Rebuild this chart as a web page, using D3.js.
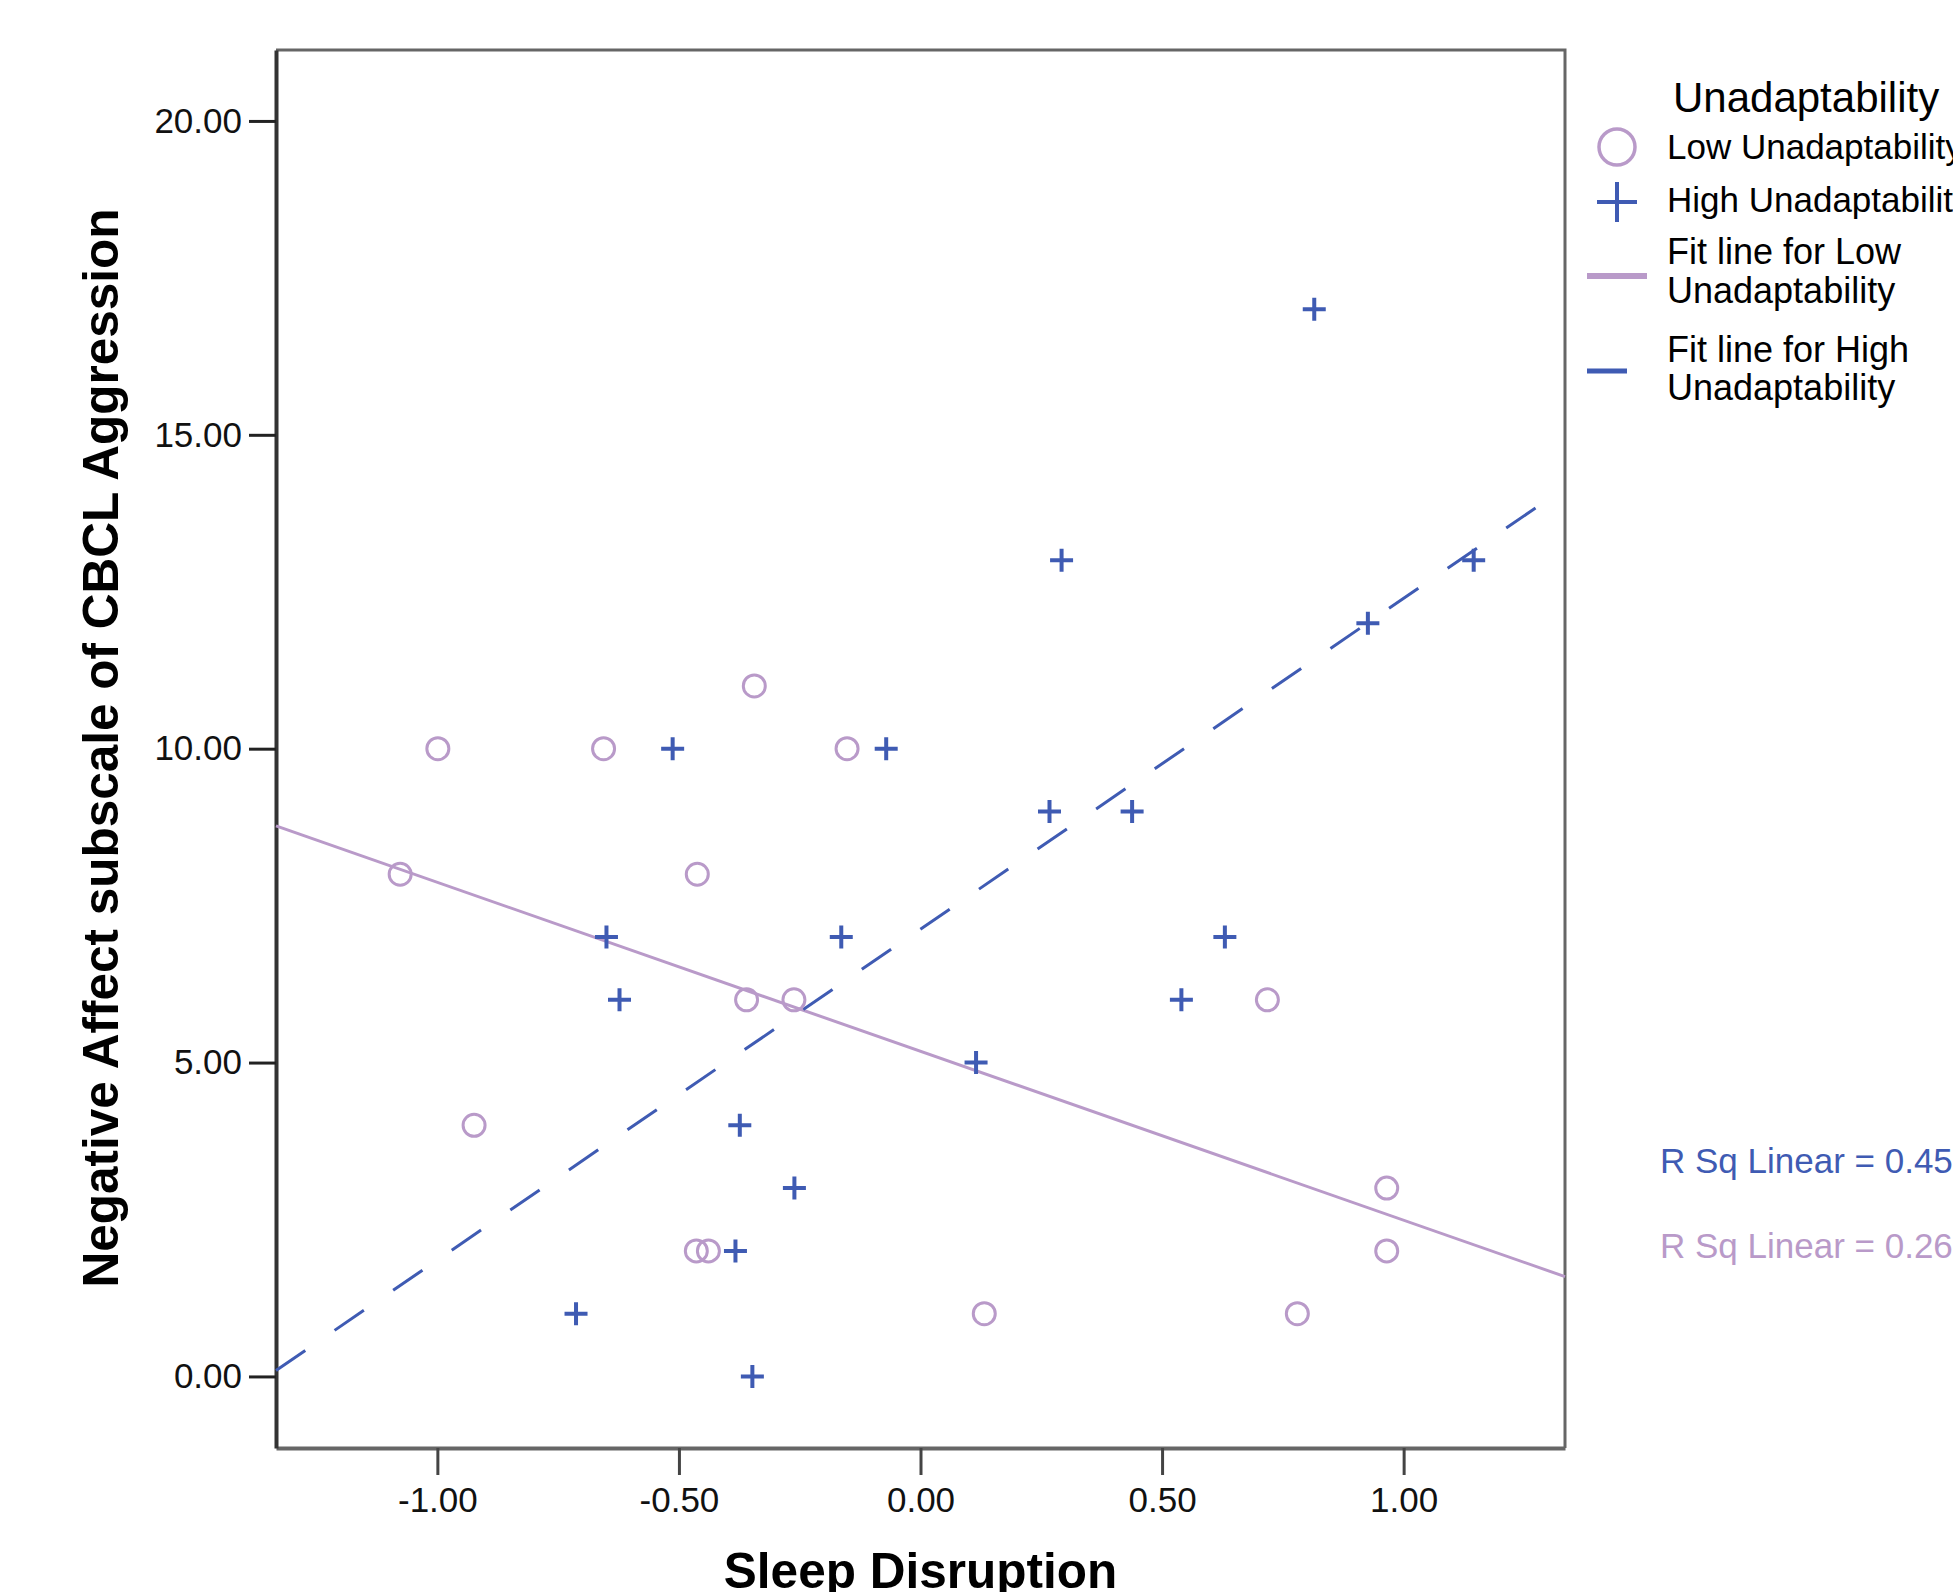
<!DOCTYPE html>
<html lang="en">
    <head>
        <meta charset="utf-8">
        <script src="https://d3js.org/d3.v7.min.js"></script>
        <title>Sleep Disruption vs Negative Affect</title>
        <style>
            body { margin: 0; background: #fff; }
            text { font-family: "Liberation Sans", Arial, sans-serif; }
        </style>
    </head>
    <body>
        <div id="plot"></div>
        <script type="text/javascript">
            // Low Unadaptability (circles)
            var lowX = [-1.077, -0.999, -0.924, -0.656, -0.462, -0.344, -0.360, -0.262, -0.152, -0.464, -0.439, 0.132, 0.718, 0.780, 0.965, 0.965];
            var lowY = [8, 10, 4, 10, 8, 11, 6, 6, 10, 2, 2, 1, 6, 1, 3, 2];
            // High Unadaptability (plus signs)
            var highX = [-0.713, -0.650, -0.623, -0.513, -0.374, -0.383, -0.348, -0.261, -0.164, -0.071, 0.115, 0.267, 0.292, 0.438, 0.540, 0.630, 0.815, 0.926, 1.145];
            var highY = [1, 7, 6, 10, 4, 2, 0, 3, 7, 10, 5, 9, 13, 9, 6, 7, 17, 12, 13];

            // fit lines: [intercept, slope], x extent
            var lowFit = [5.18, -2.691], lowFitRange = [-1.334, 1.334];
            var highFit = [7.125, 5.27], highFitRange = [-1.334, 1.274];

            var xTicks = [-1, -0.5, 0, 0.5, 1];
            var yTicks = [0, 5, 10, 15, 20];
            var rsqLabels = ["R Sq Linear = 0.45", "R Sq Linear = 0.26"];
            var legendLabels = ["Low Unadaptability", "High Unadaptability"];

            var purple = "#b99ac9", blue = "#3f5bb3";

            var width = 1953, height = 1592;
            var svg = d3.select("#plot")
                        .append("svg")
                        .attr("width", width)
                        .attr("height", height);

            var x = d3.scaleLinear()
                      .domain([-1.334, 1.334])
                      .range([276, 1565]);
            var y = d3.scaleLinear()
                      .domain([-1.14, 21.13])
                      .range([1448, 50]);

            var fmt = function(d){ return d3.format(".2f")(d).replace("\u2212", "-"); };

            // frame (top and right)
            svg.append("path")
               .attr("d", "M" + x.range()[0] + "," + y.range()[1] + "H" + x.range()[1] + "V" + y.range()[0])
               .attr("fill", "none")
               .attr("stroke", "#666")
               .attr("stroke-width", 3);

            // X axis
            var gx = svg.append("g")
                        .attr("transform", "translate(0," + y.range()[0] + ")")
                        .call(d3.axisBottom(x).tickValues(xTicks).tickFormat(fmt).tickSize(27).tickSizeOuter(0).tickPadding(12));
            gx.select(".domain").attr("stroke", "#666").attr("stroke-width", 4);
            gx.selectAll(".tick line").attr("stroke", "#444").attr("stroke-width", 3);
            gx.selectAll(".tick text")
              .attr("font-size", 35)
              .attr("fill", "#111")
              .attr("font-family", "Liberation Sans, Arial, sans-serif");

            // Y axis
            var gy = svg.append("g")
                        .attr("transform", "translate(" + x.range()[0] + ",0)")
                        .call(d3.axisLeft(y).tickValues(yTicks).tickFormat(fmt).tickSize(27).tickSizeOuter(0).tickPadding(7));
            gy.select(".domain").attr("stroke", "#333").attr("stroke-width", 4);
            gy.selectAll(".tick line").attr("stroke", "#222").attr("stroke-width", 3);
            gy.selectAll(".tick text")
              .attr("font-size", 35)
              .attr("fill", "#111")
              .attr("font-family", "Liberation Sans, Arial, sans-serif");

            // fit lines
            var fitLine = d3.line()
                            .x(function(d){ return x(d[0]); })
                            .y(function(d){ return y(d[1]); });
            function fitPoints(fit, range) {
                return range.map(function(v){ return [v, fit[0] + fit[1]*v]; });
            }
            svg.append("path")
               .attr("d", fitLine(fitPoints(lowFit, lowFitRange)))
               .attr("fill", "none")
               .attr("stroke", purple)
               .attr("stroke-width", 3);
            svg.append("path")
               .attr("d", fitLine(fitPoints(highFit, highFitRange)))
               .attr("fill", "none")
               .attr("stroke", blue)
               .attr("stroke-width", 3)
               .attr("stroke-dasharray", "35.5,35.5");

            // points
            var low = lowX.map(function(v, i){ return {x: v, y: lowY[i]}; });
            var high = highX.map(function(v, i){ return {x: v, y: highY[i]}; });

            svg.append("g")
               .selectAll("circle")
               .data(low)
               .enter()
               .append("circle")
               .attr("cx", function(d){ return x(d.x); })
               .attr("cy", function(d){ return y(d.y); })
               .attr("r", 11)
               .attr("fill", "none")
               .attr("stroke", purple)
               .attr("stroke-width", 3);

            svg.append("g")
               .selectAll("path")
               .data(high)
               .enter()
               .append("path")
               .attr("d", function(d){
                   var cx = x(d.x), cy = y(d.y), s = 11.5;
                   return "M" + (cx - s) + "," + cy + "H" + (cx + s) + "M" + cx + "," + (cy - s) + "V" + (cy + s);
               })
               .attr("stroke", blue)
               .attr("stroke-width", 4)
               .attr("fill", "none");

            // axis titles
            svg.append("text")
               .attr("text-anchor", "middle")
               .attr("x", x(0))
               .attr("y", 1588)
               .attr("font-size", 49.5)
               .attr("font-weight", "bold")
               .text("Sleep Disruption");

            svg.append("text")
               .attr("text-anchor", "middle")
               .attr("transform", "translate(118,748) rotate(-90)")
               .attr("font-size", 49.5)
               .attr("font-weight", "bold")
               .text("Negative Affect subscale of CBCL Aggression");

            // legend
            var legend = svg.append("g");
            legend.append("text")
                  .attr("x", 1673).attr("y", 112)
                  .attr("font-size", 42)
                  .text("Unadaptability");
            legend.append("circle")
                  .attr("cx", 1617).attr("cy", 147).attr("r", 18)
                  .attr("fill", "none").attr("stroke", purple).attr("stroke-width", 3.5);
            legend.append("path")
                  .attr("d", "M1597,202H1637M1617,182V222")
                  .attr("stroke", blue).attr("stroke-width", 4);
            legend.append("text").attr("x", 1667).attr("y", 159).attr("font-size", 35).text(legendLabels[0]);
            legend.append("text").attr("x", 1667).attr("y", 212).attr("font-size", 35).text(legendLabels[1]);

            legend.append("line")
                  .attr("x1", 1587).attr("x2", 1647).attr("y1", 276).attr("y2", 276)
                  .attr("stroke", purple).attr("stroke-width", 6);
            legend.append("text").attr("x", 1667).attr("y", 264).attr("font-size", 36).text("Fit line for Low");
            legend.append("text").attr("x", 1667).attr("y", 303).attr("font-size", 36).text("Unadaptability");

            legend.append("line")
                  .attr("x1", 1587).attr("x2", 1627).attr("y1", 371).attr("y2", 371)
                  .attr("stroke", blue).attr("stroke-width", 5);
            legend.append("text").attr("x", 1667).attr("y", 362).attr("font-size", 36).text("Fit line for High");
            legend.append("text").attr("x", 1667).attr("y", 400).attr("font-size", 36).text("Unadaptability");

            // R squared labels
            svg.append("text").attr("x", 1660).attr("y", 1173).attr("font-size", 35).attr("fill", blue).text(rsqLabels[0]);
            svg.append("text").attr("x", 1660).attr("y", 1258).attr("font-size", 35).attr("fill", purple).text(rsqLabels[1]);
        </script>
    </body>
</html>
